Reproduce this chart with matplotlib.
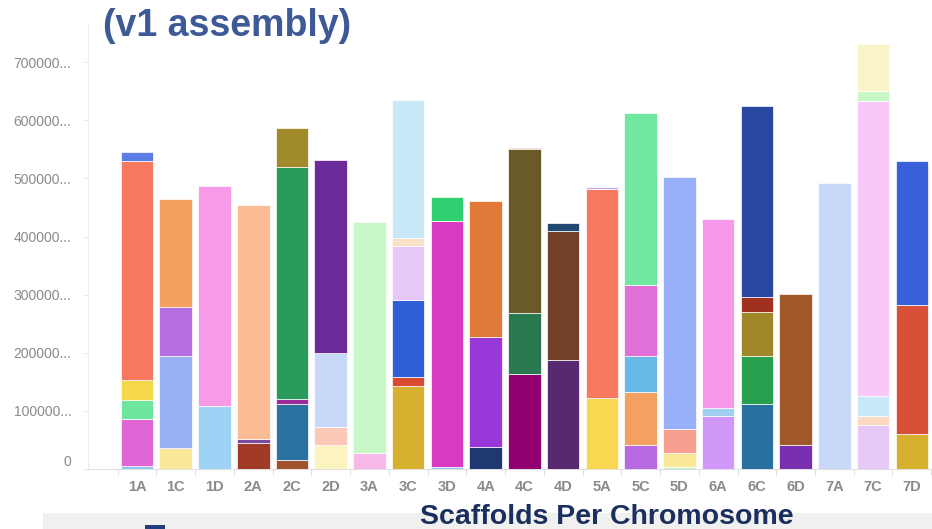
import matplotlib
matplotlib.use("Agg")
import matplotlib.pyplot as plt
from matplotlib.patches import Rectangle
from matplotlib.transforms import ScaledTranslation

# ---- data (segment sizes, bottom to top) ----
chromosomes = ["1A", "1C", "1D", "2A", "2C", "2D", "3A", "3C", "3D", "4A", "4C",
               "4D", "5A", "5C", "5D", "6A", "6C", "6D", "7A", "7C", "7D"]

v_1A = [5000, 81000, 33000, 34000, 377000, 15000]
v_1C = [36000, 159000, 83000, 186000]
v_1D = [108000, 379000]
v_2A = [45000, 6000, 403000]
v_2C = [16000, 96000, 8000, 399000, 68000]
v_2D = [42000, 31000, 127000, 332000]
v_3A = [27000, 398000]
v_3C = [142000, 17000, 132000, 93000, 13000, 238000]
v_3D = [3000, 423000, 42000]
v_4A = [38000, 190000, 233000]
v_4C = [164000, 104000, 282000, 3000]
v_4D = [187000, 222000, 14000]
v_5A = [122000, 360000, 3000]
v_5C = [42000, 90000, 63000, 122000, 296000]
v_5D = [4000, 23000, 42000, 433000]
v_6A = [91000, 14000, 326000]
v_6C = [112000, 82000, 77000, 25000, 328000]
v_6D = [42000, 259000]
v_7A = [493000]
v_7C = [76000, 16000, 34000, 508000, 16000, 82000]
v_7D = [61000, 222000, 247000]

segment_values = [v_1A, v_1C, v_1D, v_2A, v_2C, v_2D, v_3A, v_3C, v_3D, v_4A,
                  v_4C, v_4D, v_5A, v_5C, v_5D, v_6A, v_6C, v_6D, v_7A, v_7C, v_7D]

y_ticks = [0, 100000, 200000, 300000, 400000, 500000, 600000, 700000]
y_tick_labels = ["0", "100000...", "200000...", "300000...", "400000...",
                 "500000...", "600000...", "700000..."]

# ---- styles (segment colours) ----
c_1A = ["#8ec8f0", "#e066d6", "#6ee6a0", "#f5d84a", "#f7785e", "#5a7ee6"]
c_1C = ["#f9e79a", "#98aef5", "#b46ee0", "#f4a05c"]
c_1D = ["#9fd3f5", "#f79ae8"]
c_2A = ["#a03a26", "#7a4aa0", "#fbbc94"]
c_2C = ["#a0522d", "#2a72a0", "#9b2a9b", "#2a9a5a", "#a08a2a"]
c_2D = ["#fbf3c0", "#fcc8b8", "#c8d8f8", "#6a2a9a"]
c_3A = ["#f8b8e8", "#c8f8c8"]
c_3C = ["#d8b030", "#d84a30", "#3060d8", "#e8c8f8", "#fbe0c8", "#c8e8f8"]
c_3D = ["#8ec8f0", "#d83ac0", "#30d070"]
c_4A = ["#203870", "#9838d8", "#e07838"]
c_4C = ["#900070", "#287850", "#6a5a28", "#a03020"]
c_4D = ["#582870", "#704028", "#204870"]
c_5A = ["#f8d850", "#f87860", "#c8a8e8"]
c_5C = ["#b868e0", "#f4a060", "#68b8e8", "#e070d8", "#70e8a0"]
c_5D = ["#b8f0c8", "#f8e898", "#f8a090", "#98b0f8"]
c_6A = ["#d098f8", "#a0d0f0", "#f898e8"]
c_6C = ["#2870a0", "#28a050", "#a08828", "#a03020", "#2848a0"]
c_6D = ["#7830b0", "#a05828"]
c_7A = ["#c8d8f8"]
c_7C = ["#e8c8f8", "#fbd8c0", "#c8e8f8", "#f8c8f8", "#c8f8c8", "#f8f4c8"]
c_7D = ["#d8b030", "#d85038", "#3860d8"]

segment_colors = [c_1A, c_1C, c_1D, c_2A, c_2C, c_2D, c_3A, c_3C, c_3D, c_4A,
                  c_4C, c_4D, c_5A, c_5C, c_5D, c_6A, c_6C, c_6D, c_7A, c_7C, c_7D]

plt.rcParams['font.family'] = ['Liberation Sans', 'DejaVu Sans']

W, H = 932, 529
fig = plt.figure(figsize=(W / 100, H / 100), dpi=100)

ax_left, ax_right = 88, 932
ax_top, ax_bottom = 23, 469
ax = fig.add_axes([ax_left / W, 1 - ax_bottom / H,
                   (ax_right - ax_left) / W, (ax_bottom - ax_top) / H])

for i, (vals, cols) in enumerate(zip(segment_values, segment_colors)):
    bottom = 0
    for v, c in zip(vals, cols):
        ax.bar(i, v, bottom=bottom, width=0.84, color=c,
               edgecolor="#ffffff", linewidth=0.5, zorder=3)
        bottom += v

ax.set_xlim(-1.265, 20.52)
ax.set_ylim(0, 767600)

ax.set_xticks(range(len(chromosomes)))
ax.set_xticklabels(chromosomes, color="#8a8a8a", fontsize=10.5, fontweight="bold")
ax.tick_params(axis="x", which="major", length=0, pad=8)
ax.set_xticks([i + 0.5 for i in range(-1, len(chromosomes))], minor=True)
ax.tick_params(axis="x", which="minor", length=4, color="#e0e0e0", width=0.8)

ax.set_yticks(y_ticks)
ax.set_yticklabels(y_tick_labels, color="#8a8a8a", fontsize=10)
ax.tick_params(axis="y", length=3, color="#e6e6e6", width=0.8, pad=9)
zero_lbl = ax.get_yticklabels()[0]
zero_lbl.set_transform(zero_lbl.get_transform() +
                       ScaledTranslation(0, 9 / 100, fig.dpi_scale_trans))

for s in ["top", "right"]:
    ax.spines[s].set_visible(False)
ax.spines["left"].set_color("#ececec")
ax.spines["bottom"].set_color("#e0e0e0")
ax.spines["left"].set_linewidth(0.8)
ax.spines["bottom"].set_linewidth(0.8)

# title
fig.text(103 / W, 1 - 36 / H, "(v1 assembly)", color="#3d5a96", fontsize=27,
         fontweight="bold", ha="left", va="baseline")

# bottom band
fig.patches.append(Rectangle((43 / W, 0), 1 - 43 / W, (H - 513) / H,
                             transform=fig.transFigure, facecolor="#f0f0ee",
                             edgecolor="none", zorder=0))
fig.patches.append(Rectangle((145 / W, 0), 20 / W, 4 / H,
                             transform=fig.transFigure, facecolor="#1f3f7a",
                             edgecolor="none", zorder=1))

fig.text(607 / W, 1 - 524 / H, "Scaffolds Per Chromosome", color="#1b2f5e",
         fontsize=20.5, fontweight="bold", ha="center", va="baseline", zorder=5)

fig.savefig("out.png", dpi=100)
